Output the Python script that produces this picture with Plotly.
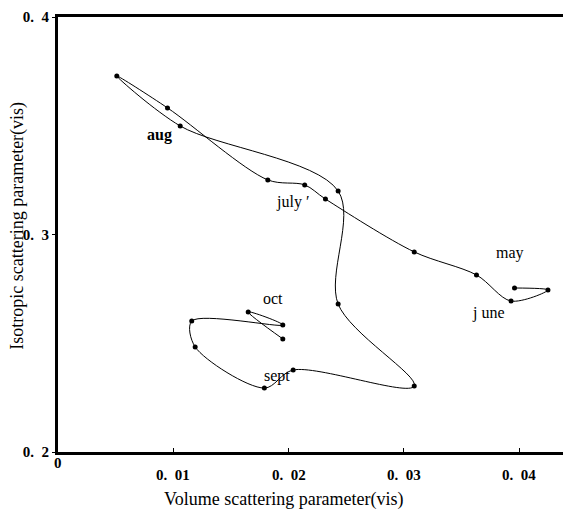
import plotly.graph_objects as go

# Trajectory (May -> Oct)
volume_x = [0.0396, 0.0425, 0.0393, 0.0363, 0.0309, 0.0232, 0.0214, 0.0182,
            0.0095, 0.0051, 0.0106, 0.0243, 0.0243, 0.0309, 0.0204, 0.0179,
            0.0119, 0.0116, 0.0195, 0.0165, 0.0195]
isotropic_y = [0.2754, 0.2745, 0.2694, 0.2814, 0.2920, 0.3163, 0.3228, 0.3251,
               0.3582, 0.3729, 0.3499, 0.3200, 0.2680, 0.2303, 0.2377, 0.2294,
               0.2483, 0.2602, 0.2584, 0.2644, 0.2520]

month_labels = ["aug", "july \u2032", "may", "j une", "oct", "sept"]
label_x = [0.0088, 0.0203, 0.0392, 0.0373, 0.01865, 0.0190]
label_y = [0.3457, 0.3149, 0.2915, 0.2639, 0.2708, 0.2349]
label_bold = [True, False, False, False, False, False]

x_tickvals = [0, 0.01, 0.02, 0.03, 0.04]
x_ticktext = ["0", "0.\u200201", "0.\u200202", "0.\u200203", "0.\u200204"]
y_tickvals = [0.2, 0.3, 0.4]
y_ticktext = ["0.\u20022", "0.\u20023", "0.\u20024"]

SERIF = "Liberation Serif, Times New Roman, serif"

fig = go.Figure()
fig.add_trace(go.Scatter(
    x=volume_x, y=isotropic_y, mode="lines+markers",
    line=dict(color="black", width=1, shape="spline", smoothing=0.9),
    marker=dict(color="black", size=5),
    showlegend=False, hoverinfo="skip"))

annotations = []
for t, ax, ay, b in zip(month_labels, label_x, label_y, label_bold):
    annotations.append(dict(x=ax, y=ay, xref="x", yref="y", text=("<b>%s</b>" % t) if b else t,
                            showarrow=False, font=dict(family=SERIF, size=16, color="black")))

# x tick labels (as annotations to mimic scan placement)
for v, t in zip(x_tickvals, x_ticktext):
    annotations.append(dict(x=v, y=-0.026 if v == 0 else -0.052, xref="x", yref="paper",
                            xanchor="center", yanchor="middle",
                            text="<b>%s</b>" % t, showarrow=False,
                            font=dict(family=SERIF, size=15, color="black")))
annotations.append(dict(x=0.44, y=-0.08, xref="paper", yref="paper", yanchor="top",
                        xanchor="center",
                        text="Volume scattering parameter(vis)", showarrow=False,
                        font=dict(family=SERIF, size=18, color="black")))
annotations.append(dict(x=-0.078, y=0.52, xref="paper", yref="paper", textangle=-90,
                        xanchor="center", yanchor="middle",
                        text="Isotropic scattering parameter(vis)", showarrow=False,
                        font=dict(family=SERIF, size=18, color="black")))

# page body has an 8px default margin: size/margins compensate for it
fig.update_layout(
    width=563, height=504,
    margin=dict(l=50, r=0, t=9, b=60),
    paper_bgcolor="white", plot_bgcolor="white",
    annotations=annotations,
    xaxis=dict(range=[0, 0.0445], showgrid=False, zeroline=False,
               showline=True, linecolor="black", linewidth=3, mirror=True,
               tickvals=x_tickvals, showticklabels=False,
               ticks="inside", ticklen=4, tickwidth=1, tickcolor="black"),
    yaxis=dict(range=[0.2, 0.4], showgrid=False, zeroline=False,
               showline=True, linecolor="black", linewidth=3,
               tickvals=y_tickvals, ticktext=["<b>%s</b>" % t for t in y_ticktext],
               ticks="outside", ticklen=3, tickwidth=1, tickcolor="black",
               tickfont=dict(family=SERIF, size=15, color="black")),
)

fig.write_html("out.html")
